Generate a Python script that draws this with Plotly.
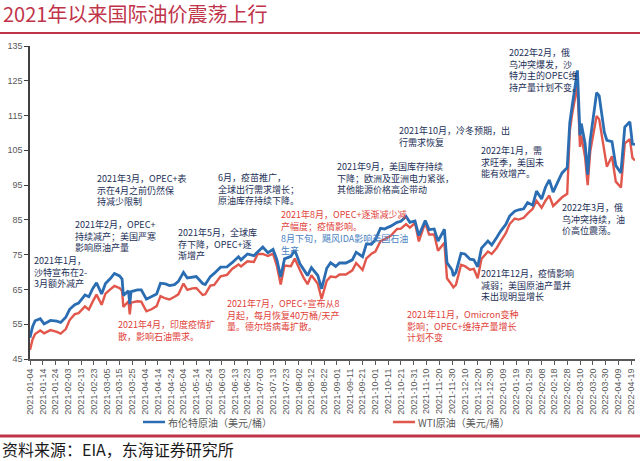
import plotly.graph_objects as go

# ---------------- data ----------------
dates = [
    "2021-01-04","2021-01-06","2021-01-08","2021-01-12","2021-01-15","2021-01-20","2021-01-25","2021-01-28",
    "2021-02-01","2021-02-04","2021-02-08","2021-02-11","2021-02-16","2021-02-19","2021-02-22","2021-02-25",
    "2021-03-01","2021-03-04","2021-03-08","2021-03-11","2021-03-15","2021-03-17","2021-03-18","2021-03-22",
    "2021-03-23","2021-03-24","2021-03-29","2021-04-01","2021-04-05","2021-04-09","2021-04-13","2021-04-16",
    "2021-04-20","2021-04-23","2021-04-27","2021-04-30","2021-05-04","2021-05-07","2021-05-11","2021-05-14",
    "2021-05-19","2021-05-21","2021-05-25","2021-05-28","2021-06-02","2021-06-07","2021-06-11","2021-06-16",
    "2021-06-18","2021-06-23","2021-06-28","2021-07-01","2021-07-05","2021-07-09","2021-07-13","2021-07-16",
    "2021-07-19","2021-07-22","2021-07-27","2021-07-30","2021-08-03","2021-08-06","2021-08-09","2021-08-12",
    "2021-08-17","2021-08-20","2021-08-24","2021-08-27","2021-08-31","2021-09-03","2021-09-08","2021-09-13",
    "2021-09-16","2021-09-21","2021-09-24","2021-09-28","2021-10-01","2021-10-05","2021-10-08","2021-10-13",
    "2021-10-18","2021-10-21","2021-10-25","2021-10-28","2021-11-01","2021-11-04","2021-11-09","2021-11-12",
    "2021-11-16","2021-11-19","2021-11-24","2021-11-26","2021-11-30","2021-12-01","2021-12-03","2021-12-07",
    "2021-12-10","2021-12-14","2021-12-17","2021-12-20","2021-12-23","2021-12-28","2021-12-31",
    "2022-01-04","2022-01-07","2022-01-11","2022-01-14","2022-01-18","2022-01-21","2022-01-25","2022-01-28",
    "2022-02-01","2022-02-04","2022-02-08","2022-02-11","2022-02-14","2022-02-17","2022-02-22","2022-02-24",
    "2022-02-28","2022-03-02","2022-03-04","2022-03-08","2022-03-10","2022-03-11","2022-03-14","2022-03-16",
    "2022-03-18","2022-03-23","2022-03-25","2022-03-29","2022-03-31","2022-04-04","2022-04-07","2022-04-11",
    "2022-04-14","2022-04-18","2022-04-20","2022-04-22",
]

brent = [
    51.1, 54.3, 56.0, 56.6, 55.1, 56.1, 55.9, 55.5,
    57.0, 59.3, 60.6, 61.1, 63.4, 62.9, 65.2, 66.9,
    63.7, 66.7, 68.2, 69.6, 68.9, 68.0, 63.3, 64.6,
    60.8, 64.4, 64.9, 64.9, 62.2, 62.9, 63.7, 66.8,
    66.6, 66.1, 66.4, 67.3, 69.9, 68.3, 68.6, 68.7,
    66.7, 66.4, 68.7, 69.6, 71.4, 71.5, 72.7, 74.4,
    73.5, 75.2, 74.7, 75.8, 77.2, 75.6, 76.5, 73.6,
    68.6, 73.8, 74.5, 76.3, 72.4, 70.7, 69.0, 71.3,
    69.0, 65.2, 71.1, 72.7, 71.6, 72.6, 72.6, 73.5,
    75.7, 74.4, 78.1, 78.0, 79.3, 82.6, 82.4, 83.2,
    84.3, 84.6, 86.0, 84.3, 84.7, 80.5, 84.8, 82.2,
    82.4, 78.9, 82.3, 72.7, 70.6, 68.9, 69.9, 75.4,
    75.2, 73.7, 73.5, 71.5, 76.9, 78.9, 77.8,
    80.0, 81.8, 83.7, 86.1, 87.5, 87.9, 88.2, 90.0,
    89.2, 93.3, 91.0, 94.4, 96.5, 93.0, 97.0, 98.5,
    100.0, 112.9, 118.1, 128.0, 109.3, 112.7, 106.9, 98.0,
    108.0, 121.6, 120.7, 110.2, 107.9, 107.5, 100.6, 98.5,
    111.7, 113.2, 106.8, 106.7,
]

wti = [
    47.6, 50.6, 52.2, 53.2, 52.4, 53.3, 52.8, 52.3,
    53.6, 56.2, 57.9, 58.2, 60.1, 59.2, 61.5, 63.5,
    60.6, 63.8, 65.1, 66.0, 65.4, 64.6, 60.0, 61.6,
    57.8, 61.2, 61.6, 61.5, 58.7, 59.3, 60.2, 63.1,
    62.4, 62.1, 62.9, 63.6, 66.7, 64.9, 65.3, 65.4,
    63.4, 63.6, 66.1, 66.3, 68.8, 69.2, 70.9, 72.2,
    71.6, 73.1, 72.9, 75.2, 75.2, 74.6, 75.3, 71.8,
    66.4, 71.9, 71.7, 73.9, 70.6, 68.3, 66.5, 69.1,
    66.6, 62.3, 67.5, 68.7, 68.5, 69.3, 69.3, 70.5,
    72.6, 70.6, 73.9, 75.3, 75.9, 78.9, 79.4, 80.4,
    82.4, 82.5, 83.8, 82.8, 84.1, 78.8, 84.2, 80.8,
    80.8, 76.1, 78.4, 68.2, 66.2, 65.6, 66.3, 72.1,
    71.7, 70.7, 70.9, 68.2, 73.8, 75.9, 75.2,
    77.0, 78.9, 81.2, 83.8, 85.4, 85.1, 85.6, 86.8,
    88.2, 90.5, 88.5, 90.5, 92.0, 89.0, 91.0, 91.5,
    92.5, 110.6, 115.7, 123.7, 106.0, 109.3, 103.0, 95.0,
    104.7, 114.9, 113.9, 104.2, 100.3, 103.3, 96.0, 94.3,
    107.0, 108.2, 102.8, 102.1,
]

series_names = ["布伦特原油（美元/桶）", "WTI原油（美元/桶）"]
series_colors = ["#2a6db3", "#e2574c"]
y_ticks = [45, 55, 65, 75, 85, 95, 105, 115, 125, 135]
x_tick_start = "2021-01-04"
x_range = ["2021-01-04", "2022-04-22"]

title_text = "2021年以来国际油价震荡上行"
source_text = "资料来源：EIA，东海证券研究所"

notes = [
    ("2021年1月，<br>沙特宣布在2-<br>3月额外减产", "navy", 32, 259),
    ("2021年2月，OPEC+<br>持续减产；美国严寒<br>影响原油产量", "navy", 73, 223),
    ("2021年3月，OPEC+表<br>示在4月之前仍然保<br>持减少限制", "navy", 95, 177),
    ("2021年4月，印度疫情扩<br>散，影响石油需求。", "red", 116, 323),
    ("2021年5月，全球库<br>存下降，OPEC+逐<br>渐增产", "navy", 176, 231),
    ("6月，疫苗推广，<br>全球出行需求增长；<br>原油库存持续下降。", "navy", 216, 176),
    ("2021年7月，OPEC+宣布从8<br>月起，每月恢复40万桶/天产<br>量。德尔塔病毒扩散。", "red", 225, 302),
    ("2021年8月，OPEC+逐渐减少减<br>产幅度；疫情影响。", "red", 279, 213),
    ("8月下旬，飓风IDA影响美国石油<br>生产", "blue", 279, 237),
    ("2021年9月，美国库存持续<br>下降；欧洲及亚洲电力紧张，<br>其他能源价格高企带动", "navy", 335, 165),
    ("2021年10月，冷冬预期，出<br>行需求恢复", "navy", 397, 129),
    ("2022年1月，需<br>求旺季，美国未<br>能有效增产。", "navy", 479, 149),
    ("2022年2月，俄<br>乌冲突爆发，沙<br>特为主的OPEC维<br>持产量计划不变。", "navy", 507, 51),
    ("2022年3月，俄<br>乌冲突持续，油<br>价高位震荡。", "navy", 560, 206),
    ("2021年12月，疫情影响<br>减弱；美国原油产量并<br>未出现明显增长", "navy", 479, 272),
    ("2021年11月，Omicron变种<br>影响；OPEC+维持产量增长<br>计划不变", "red", 405, 313),
]
note_colors = {"navy": "#1c2f57", "red": "#e0423a", "blue": "#4a7fbf"}

# ---------------- layout geometry ----------------
W, H = 640, 461
L, R, T, B = 30, 5, 46, 102
PW, PH = W - L - R, H - T - B


def px2paper(px, py):
    return (px - L) / PW, (H - B - py) / PH


fig = go.Figure()
fig.add_trace(go.Scatter(x=dates, y=wti, mode="lines", name=series_names[1],
                         line=dict(color=series_colors[1], width=2.4)))
fig.add_trace(go.Scatter(x=dates, y=brent, mode="lines", name=series_names[0],
                         line=dict(color=series_colors[0], width=2.8)))

annotations = []
for text, col, lx, ly in notes:
    x, y = px2paper(lx, ly - 7)
    annotations.append(dict(text=text, x=x, y=y, xref="paper", yref="paper",
                            xanchor="left", yanchor="top", align="left", showarrow=False,
                            font=dict(size=9, color=note_colors[col], family="Noto Sans CJK SC")))

sx, sy = px2paper(0, 449)
annotations.append(dict(text=source_text, x=sx, y=sy, xref="paper", yref="paper",
                        xanchor="left", yanchor="middle", showarrow=False,
                        font=dict(size=16, color="#1a1a1a", family="Noto Sans CJK SC")))

shapes = []
for py, wdt in [(33, 2), (436, 3)]:
    x0, y0 = px2paper(0, py)
    x1, _ = px2paper(W, py)
    shapes.append(dict(type="line", xref="paper", yref="paper", x0=x0, x1=x1, y0=y0, y1=y0,
                       line=dict(color="#c0344a", width=wdt)))

# legend (drawn as key lines + labels)
legend_y = 422
for name, col, lx in zip(series_names, series_colors, [143, 393]):
    x0, yk = px2paper(lx, legend_y)
    x1, _ = px2paper(lx + 22, legend_y)
    shapes.append(dict(type="line", xref="paper", yref="paper", x0=x0, x1=x1, y0=yk, y1=yk,
                       line=dict(color=col, width=2.5)))
    xt, _ = px2paper(lx + 23, legend_y)
    annotations.append(dict(text=name, x=xt, y=yk, xref="paper", yref="paper",
                            xanchor="left", yanchor="middle", showarrow=False,
                            font=dict(size=10, color="#595959", family="Noto Sans CJK SC")))

fig.update_layout(
    width=W, height=H,
    margin=dict(l=L, r=R, t=T, b=B),
    paper_bgcolor="white", plot_bgcolor="white",
    font=dict(family="Liberation Sans, Noto Sans CJK SC", color="#595959", size=9),
    title=dict(text=title_text, x=3 / W, xref="container", xanchor="left",
               y=1 - 15 / H, yref="container", yanchor="middle",
               font=dict(size=20, color="#c0344a", family="Noto Sans CJK SC")),
    showlegend=False,
    annotations=annotations,
    shapes=shapes,
    xaxis=dict(type="date", range=x_range, tick0=x_tick_start, dtick=864000000,
               tickformat="%Y-%m-%d", tickangle=-90, showgrid=False, zeroline=False,
               showline=True, linecolor="#595959", linewidth=2,
               ticks="outside", ticklen=4, tickcolor="#595959",
               tickfont=dict(size=9, color="#595959")),
    yaxis=dict(range=[45, 135], tickvals=y_ticks, showgrid=False, zeroline=False,
               showline=True, linecolor="#404040", linewidth=1.5,
               ticks="outside", ticklen=4, tickcolor="#404040",
               tickfont=dict(size=9, color="#595959")),
)

fig.write_html("out.html")
